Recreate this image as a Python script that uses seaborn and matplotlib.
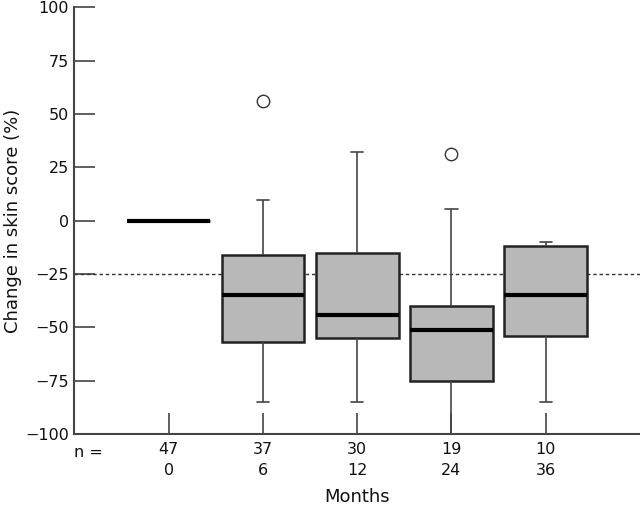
import matplotlib
matplotlib.use("Agg")
import matplotlib.pyplot as plt
import seaborn as sns
import pandas as pd

# Data (five-number summaries per group)
months = ["0", "6", "12", "24", "36"]
n_counts = [47, 37, 30, 19, 10]
lower_whisker = [0, -85, -85, -100, -85]
q1 = [0, -57, -55, -75, -54]
median = [0, -35, -44, -51, -35]
q3 = [0, -16, -15, -40, -12]
upper_whisker = [0, 9.5, 32, 5.5, -10]
outlier_months = ["6", "24"]
outlier_values = [56, 31]
reference_line = -25
y_ticks = [100, 75, 50, 25, 0, -25, -50, -75, -100]

rows = []
for m, lo, a, md, b, hi in zip(months, lower_whisker, q1, median, q3, upper_whisker):
    for v in (lo, a, md, b, hi):
        rows.append({"Months": m, "value": v})
df = pd.DataFrame(rows)
out_df = pd.DataFrame({"Months": outlier_months, "value": outlier_values})

sns.set_theme(style="white")
plt.rcParams["font.family"] = ["DejaVu Sans"]

fig = plt.figure(figsize=(6.4, 5.12), dpi=100)
ax = fig.add_axes([0.1164, 0.152, 0.8836, 0.834])

edge = "#222222"
sns.boxplot(data=df, x="Months", y="value", order=months, whis=(0, 100),
            width=0.88, color="#b8b8b8", linecolor=edge, linewidth=1.8,
            showfliers=False, ax=ax, capwidths=0.13,
            whiskerprops=dict(color="#444444", linewidth=1.2),
            capprops=dict(color="#444444", linewidth=1.2),
            medianprops=dict(color="black", linewidth=3))
sns.scatterplot(data=out_df, x="Months", y="value", ax=ax, marker="o",
                s=80, facecolor="white", edgecolor="#333333", linewidth=1.0,
                zorder=5)

ax.axhline(reference_line, color="#333333", linewidth=1.0, linestyle=(0, (2.5, 2)), zorder=1)

ax.set_xlim(-1, 5)
ax.set_ylim(-100, 100)
ax.set_yticks(y_ticks)
ax.set_yticklabels([str(t) if t >= 0 else "\u2212" + str(-t) for t in y_ticks])
ax.set_xticks(range(len(months)))
ax.set_xticklabels([f"{n}\n{m}" for n, m in zip(n_counts, months)], linespacing=1.5)

for s in ["top", "right"]:
    ax.spines[s].set_visible(False)
for s in ["left", "bottom"]:
    ax.spines[s].set_color("#444444")
    ax.spines[s].set_linewidth(1.5)

ax.tick_params(axis="both", direction="in", length=15, width=1.2, color="#444444",
               labelsize=11.5, labelcolor="#111111", bottom=True, left=True)
ax.tick_params(axis="x", pad=5.5)
ax.tick_params(axis="y", pad=4)

ax.text(0.0, -0.026, "n =", transform=ax.transAxes, ha="left", va="top",
        fontsize=11.5, color="#111111")

ax.set_xlabel("Months", fontsize=13, color="#111111")
ax.xaxis.set_label_coords(0.5, -0.125)
ax.set_ylabel("Change in skin score (%)", fontsize=13, color="#111111")
ax.yaxis.set_label_coords(-0.092, 0.5)

fig.savefig("out.png", dpi=100)
